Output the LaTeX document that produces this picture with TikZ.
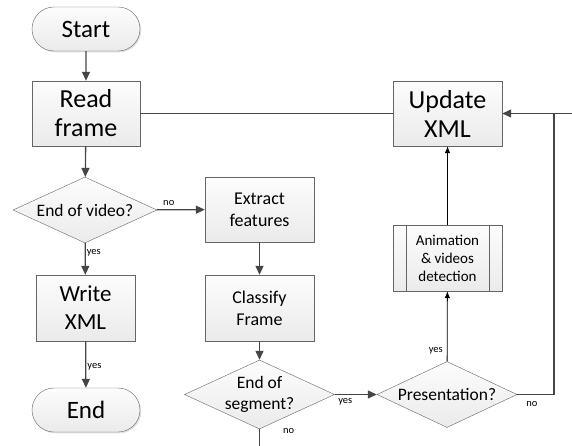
\documentclass[tikz,border=0pt]{standalone}
\usepackage{fontspec}
\setmainfont{Carlito}
\usetikzlibrary{arrows.meta, shapes.geometric, shapes.misc, shadows, calc, positioning}

\begin{document}
\begin{tikzpicture}[x=1pt, y=-1pt,
    box/.style={draw=gray!80!black, top color=gray!2, bottom color=gray!16,
      align=center, inner sep=0pt},
    shade/.style={drop shadow={opacity=0.25, shadow xshift=1.3pt, shadow yshift=-1.3pt}},
    term/.style={box, shade, rounded rectangle, minimum width=108pt, minimum height=44pt,
      font=\fontsize{25}{29}\selectfont},
    proc/.style={box, shade, rectangle, minimum width=108pt, minimum height=65pt},
    dec/.style={box, diamond, aspect=2.2, minimum width=144pt, minimum height=66pt,
      font=\fontsize{17.5}{21.5}\selectfont},
    arr/.style={draw=gray!55!black, line width=1.3pt, -{Triangle[length=9pt,width=8pt]}},
    link/.style={draw=gray!55!black, line width=1.3pt},
    thinarr/.style={draw=black, line width=0.8pt, -{Latex[length=7pt,width=5.5pt]}},
    lab/.style={font=\fontsize{10.5}{12}\selectfont, inner sep=1pt}
  ]
  \useasboundingbox (0,0) rectangle (572,446);

  % left column
  \node[term] (start) at (86,29) {Start};
  \node[proc, font=\fontsize{26}{29}\selectfont] (read) at (86,113.5) {Read\\frame};
  \node[dec] (endvid) at (85,210) {End of video?};
  \node[proc, minimum width=99pt, minimum height=66pt, font=\fontsize{23}{28}\selectfont]
    (write) at (85.5,308) {Write\\XML};
  \node[term] (end) at (86,410) {End};

  % middle column
  \node[proc, minimum width=109pt, font=\fontsize{18}{22}\selectfont]
    (extract) at (259.5,209.5) {Extract\\features};
  \node[proc, minimum width=109pt, minimum height=66pt, font=\fontsize{18}{22}\selectfont]
    (classify) at (259.5,308) {Classify\\Frame};
  \node[dec, minimum width=145pt, minimum height=69pt] (endseg) at (259.5,394.5) {End of\\segment?};

  % right column
  \node[proc, minimum width=109pt, font=\fontsize{26}{29}\selectfont]
    (update) at (447.5,113.5) {Update\\XML};
  \node[proc, minimum width=109pt, minimum height=66pt, font=\fontsize{15}{18}\selectfont]
    (anim) at (447.5,258) {Animation\\\& videos\\detection};
  \draw[gray!80!black] ($(anim.north west)+(13,0)$) -- ($(anim.south west)+(13,0)$);
  \draw[gray!80!black] ($(anim.north east)+(-13,0)$) -- ($(anim.south east)+(-13,0)$);
  \node[dec, minimum width=140pt] (present) at (447,394.5) {Presentation?};

  \coordinate (segout) at (259.5,446);
  \coordinate (loop) at (554,113.5);
  \coordinate (rightin) at (572,113.5);

  % connectors
  \draw[arr] (start) -- (read);
  \draw[arr] (read) -- (endvid);
  \draw[link] (read) -- (update);
  \draw[arr] (endvid) -- node[lab, right, pos=0.3] {yes} (write);
  \draw[arr] (write) -- node[lab, right, pos=0.55] {yes} (end);
  \draw[arr] (endvid) -- node[lab, above=3pt, pos=0.25] {no} (extract);
  \draw[arr] (extract) -- (classify);
  \draw[arr] (classify) -- (endseg);
  \draw[arr] (endseg) -- node[lab, below=2pt, pos=0.25] {yes} (present);
  \draw[link] (endseg) -- node[lab, right=22pt, pos=0.1] {no} (segout);
  \draw[thinarr] (present) -- node[lab, left=3pt, pos=0.15] {yes} (anim);
  \draw[thinarr] (anim) -- (update);
  \draw[link] (present.east) -| node[lab, below=5pt, pos=0.2] {no} (loop);
  \draw[arr] (rightin) -- (update);
\end{tikzpicture}
\end{document}
